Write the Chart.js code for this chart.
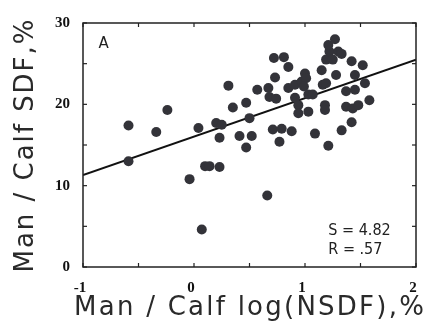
<!DOCTYPE html>
<html><head><meta charset="utf-8">
<script src="https://cdn.jsdelivr.net/npm/chart.js@4"></script>
<style>html,body{margin:0;padding:0;background:#fff}#w{width:429px;height:330px}</style>
</head><body><div id="w"><canvas id="c" width="429" height="330"></canvas></div>
<script>
const xValues = [-0.59,-0.59,-0.34,-0.24,0.04,-0.04,0.07,0.10,0.14,0.23,0.20,0.25,0.23,0.31,0.35,0.41,0.47,0.47,0.50,0.52,0.57,0.66,0.71,0.79,0.88,0.77,1.09,0.72,0.81,0.85,0.73,0.67,0.68,0.74,0.85,0.91,0.97,1.00,1.01,0.99,0.91,0.94,1.03,1.07,0.94,1.03,1.18,1.16,1.19,1.15,1.19,1.22,1.21,1.27,1.30,1.33,1.25,1.42,1.52,1.28,1.45,1.54,1.37,1.45,1.58,1.37,1.43,1.48,1.42,1.33,1.21,1.18];
const yValues = [17.4,13.0,16.6,19.3,17.1,10.8,4.6,12.4,12.4,12.3,17.7,17.5,15.9,22.3,19.6,16.1,20.2,14.7,18.3,16.1,21.8,8.8,16.9,17.0,16.7,15.4,16.4,25.7,25.8,24.6,23.3,22.0,20.9,20.7,22.0,22.4,22.8,23.8,23.2,22.2,20.8,19.9,21.2,21.2,18.9,19.1,19.9,22.4,22.6,24.2,25.5,26.5,27.3,28.0,26.5,26.2,25.5,25.3,24.8,23.6,23.6,22.6,21.6,21.8,20.5,19.7,19.5,19.9,17.8,16.8,14.9,19.3];
const fitX = [-1, 2];
const fitY = [11.3, 25.5];
const xTicks = [-1, 0, 1, 2];
const yTicks = [0, 10, 20, 30];
const xTitle = 'Man / Calf log(NSDF),%';
const yTitle = 'Man / Calf SDF,%';
const panelLabel = 'A';
const statLines = ['S = 4.82', 'R = .57'];

function fitText(ctx, text, target) {
  const n = text.length;
  const w0 = ctx.measureText(text).width;
  if ('letterSpacing' in ctx) {
    const sp = Math.max(0, (target - w0) / n);
    ctx.letterSpacing = sp.toFixed(2) + 'px';
    const w1 = ctx.measureText(text).width;
    return {scale: target / w1, spacing: sp};
  }
  return {scale: target / w0, spacing: 0};
}

const frame = {
  id: 'frame',
  afterDraw(chart) {
    const {ctx, chartArea: a, scales: {x, y}} = chart;
    ctx.save();
    ctx.strokeStyle = '#222';
    ctx.lineWidth = 1.5;
    ctx.strokeRect(a.left, a.top, a.right - a.left, a.bottom - a.top);
    ctx.lineWidth = 1.2;
    for (let v = -1; v <= 2.001; v += 0.5) {
      const px = x.getPixelForValue(v);
      ctx.beginPath(); ctx.moveTo(px, a.bottom); ctx.lineTo(px, a.bottom - 4); ctx.stroke();
      ctx.beginPath(); ctx.moveTo(px, a.top); ctx.lineTo(px, a.top + 4); ctx.stroke();
    }
    for (let v = 0; v <= 30; v += 5) {
      const py = y.getPixelForValue(v);
      ctx.beginPath(); ctx.moveTo(a.left, py); ctx.lineTo(a.left + 4, py); ctx.stroke();
      ctx.beginPath(); ctx.moveTo(a.right, py); ctx.lineTo(a.right - 4, py); ctx.stroke();
    }
    ctx.fillStyle = '#222';
    ctx.textBaseline = 'middle';
    ctx.font = '15px "DejaVu Sans"';
    ctx.fillText(panelLabel, x.getPixelForValue(-0.86), y.getPixelForValue(27.4));
    ctx.font = '16px "DejaVu Sans Condensed", "DejaVu Sans"';
    ctx.fillText(statLines[0], x.getPixelForValue(1.21), y.getPixelForValue(4.5));
    ctx.fillText(statLines[1], x.getPixelForValue(1.21), y.getPixelForValue(2.1));

    // axis titles
    ctx.fillStyle = '#2a2a2a';
    ctx.font = '26px "DejaVu Sans"';
    ctx.textBaseline = 'alphabetic';
    ctx.textAlign = 'center';
    ctx.save();
    let f = fitText(ctx, xTitle, 352);
    ctx.translate(249 + f.spacing / 2, 315);
    ctx.scale(f.scale, 1);
    ctx.fillText(xTitle, 0, 0);
    ctx.restore();
    ctx.save();
    f = fitText(ctx, yTitle, 255);
    ctx.translate(33, 146 - f.spacing / 2);
    ctx.rotate(-Math.PI / 2);
    ctx.scale(f.scale, 1);
    ctx.fillText(yTitle, 0, 0);
    ctx.restore();
    ctx.restore();
  }
};

new Chart(document.getElementById('c'), {
  data: {
    datasets: [
      { type: 'scatter', data: xValues.map((v, i) => ({x: v, y: yValues[i]})),
        backgroundColor: '#333339', borderColor: '#333339', pointRadius: 5, pointHoverRadius: 5, borderWidth: 0 },
      { type: 'line', data: fitX.map((v, i) => ({x: v, y: fitY[i]})),
        borderColor: '#111', borderWidth: 2, pointRadius: 0, fill: false }
    ]
  },
  options: {
    responsive: false, animation: false, devicePixelRatio: 1,
    layout: { padding: { left: 0, right: 13, top: 23, bottom: 0 } },
    plugins: { legend: { display: false }, tooltip: { enabled: false } },
    scales: {
      x: {
        type: 'linear', min: -1, max: 2,
        afterFit(s) { s.height = 63; },
        afterBuildTicks(s) { s.ticks = xTicks.map(v => ({value: v})); },
        grid: { display: false }, border: { display: false },
        ticks: { color: '#111', padding: 4, labelOffset: -3, font: { family: '"Liberation Serif"', weight: 'bold', size: 15 } },
        title: { display: false }
      },
      y: {
        type: 'linear', min: 0, max: 30,
        afterFit(s) { s.width = 83; },
        afterBuildTicks(s) { s.ticks = yTicks.map(v => ({value: v})); },
        grid: { display: false }, border: { display: false },
        ticks: { color: '#111', padding: 5, font: { family: '"Liberation Serif"', weight: 'bold', size: 15 } },
        title: { display: false }
      }
    }
  },
  plugins: [frame]
});
</script></body></html>
